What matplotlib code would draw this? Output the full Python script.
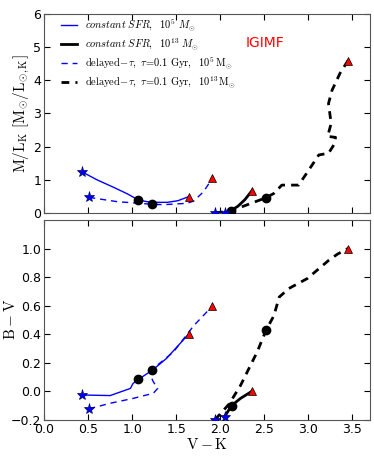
import numpy as np
import matplotlib
matplotlib.use("Agg")
import matplotlib.pyplot as plt

plt.rcParams['mathtext.fontset'] = 'cm'
plt.rcParams['font.family'] = ['DejaVu Sans']

# top panel: V-K vs M/L_K
csfr5_vk = [0.43, 0.60, 0.80, 0.95, 1.07, 1.17, 1.28, 1.40, 1.52, 1.64]
csfr5_ml = [1.24, 1.00, 0.76, 0.57, 0.39, 0.34, 0.32, 0.32, 0.37, 0.49]
del5_vk = [0.51, 0.83, 1.09, 1.23, 1.36, 1.62, 1.70, 1.81, 1.91]
del5_ml = [0.47, 0.34, 0.29, 0.26, 0.25, 0.29, 0.36, 0.64, 1.04]
csfr13_vk = [2.05, 2.12, 2.20, 2.28, 2.36]
csfr13_ml = [0.00, 0.07, 0.20, 0.40, 0.67]
del13_vk = [1.94, 2.13, 2.30, 2.52, 2.61, 2.70, 2.89, 2.98, 3.12, 3.23, 3.29,
            3.31, 3.22, 3.26, 3.23, 3.27, 3.36, 3.45]
del13_ml = [0.00, 0.07, 0.24, 0.46, 0.59, 0.84, 0.84, 1.19, 1.75, 1.80, 2.05,
            2.28, 2.31, 2.70, 3.30, 3.70, 4.21, 4.59]

# bottom panel: V-K vs B-V
csfr5_bv_vk = [0.43, 0.75, 0.98, 1.01, 1.07, 1.23, 1.39, 1.64]
csfr5_bv = [-0.026, -0.03, 0.02, 0.055, 0.083, 0.148, 0.23, 0.40]
del5_bv_vk = [0.51, 0.75, 1.01, 1.24, 1.29, 1.24, 1.215, 1.28, 1.47, 1.70, 1.91]
del5_bv = [-0.123, -0.084, -0.05, -0.014, 0.02, 0.067, 0.10, 0.18, 0.276, 0.46, 0.596]
csfr13_bv_vk = [2.05, 2.13, 2.23, 2.36]
csfr13_bv = [-0.177, -0.10, -0.05, 0.0]
del13_bv_vk = [1.94, 2.10, 2.23, 2.42, 2.52, 2.61, 2.67, 2.78, 2.99, 3.23, 3.33, 3.45]
del13_bv = [-0.20, -0.09, 0.04, 0.276, 0.427, 0.53, 0.66, 0.72, 0.79, 0.916, 0.96, 1.0]

# marked ages (circles)
dot_vk = [1.07, 1.23, 2.12, 2.52]
dot_ml = [0.39, 0.26, 0.07, 0.46]
dot_bv_vk = [1.07, 1.23, 2.13, 2.52]
dot_bv = [0.083, 0.148, -0.10, 0.427]

blue = '#0000ff'

fig = plt.figure(figsize=(3.74, 4.67), dpi=100)
ax1 = fig.add_axes([0.118, 0.544, 0.871, 0.426])
ax2 = fig.add_axes([0.118, 0.101, 0.871, 0.428])

lab_c5 = r'$constant\ SFR,\ \ 10^5\ M_{\odot}$'
lab_c13 = r'$constant\ SFR,\ \ 10^{13}\ M_{\odot}$'
lab_d5 = r'$\mathrm{delayed}\!-\!\tau,\ \tau\!=\!0.1\ \mathrm{Gyr},\ \ 10^5\,\mathrm{M}_{\odot}$'
lab_d13 = r'$\mathrm{delayed}\!-\!\tau,\ \tau\!=\!0.1\ \mathrm{Gyr},\ \ 10^{13}\,\mathrm{M}_{\odot}$'

def draw(ax, c5x, c5y, d5x, d5y, c13x, c13y, d13x, d13y, dx, dy, legend):
    ax.plot(c5x, c5y, '-', color=blue, lw=1.0, label=lab_c5)
    ax.plot(c13x, c13y, '-', color='k', lw=2.0, label=lab_c13)
    ax.plot(d5x, d5y, '--', color=blue, lw=1.0, dashes=(4.5, 3.5), label=lab_d5)
    ax.plot(d13x, d13y, '--', color='k', lw=2.0, dashes=(2.8, 2.2), label=lab_d13)
    ax.plot(dx, dy, 'o', color='k', ms=6, zorder=5)
    sx = [c5x[0], d5x[0], c13x[0], d13x[0]]
    sy = [c5y[0], d5y[0], c13y[0], d13y[0]]
    ax.plot(sx, sy, '*', color=blue, mec='#000066', mew=0.5, ms=8, zorder=6)
    tx = [c5x[-1], d5x[-1], c13x[-1], d13x[-1]]
    ty = [c5y[-1], d5y[-1], c13y[-1], d13y[-1]]
    ax.plot(tx, ty, '^', color='red', mec='k', mew=0.5, ms=5.5, zorder=6)
    ax.tick_params(direction='in', top=True, right=True, labelsize=9, length=4, pad=2)
    for s in ax.spines.values():
        s.set_color('#555555')
    if legend:
        ax.legend(loc='upper left', bbox_to_anchor=(0.04, 1.0), frameon=False,
                  fontsize=7.5, handlelength=1.5, borderaxespad=0.0,
                  labelspacing=0.35, handletextpad=0.8)

draw(ax1, csfr5_vk, csfr5_ml, del5_vk, del5_ml, csfr13_vk, csfr13_ml,
     del13_vk, del13_ml, dot_vk, dot_ml, True)
draw(ax2, csfr5_bv_vk, csfr5_bv, del5_bv_vk, del5_bv, csfr13_bv_vk, csfr13_bv,
     del13_bv_vk, del13_bv, dot_bv_vk, dot_bv, False)

ax1.set_xlim(0, 3.7)
ax1.set_ylim(0, 6)
ax1.set_yticks([0, 1, 2, 3, 4, 5, 6])
ax1.set_xticks([0.0, 0.5, 1.0, 1.5, 2.0, 2.5, 3.0, 3.5])
ax1.set_xticklabels([])
ax1.set_ylabel(r'$\mathrm{M/L_K\ [M_{\odot}/L_{\odot,K}]}$', fontsize=11)
ax1.yaxis.set_label_coords(-0.037, 0.5)
ax1.text(2.51, 5.13, 'IGIMF', color='red', fontsize=10, ha='center', va='center')

ax2.set_xlim(0, 3.7)
ax2.set_ylim(-0.2, 1.2)
ax2.set_yticks([-0.2, 0.0, 0.2, 0.4, 0.6, 0.8, 1.0])
ax2.set_xticks([0.0, 0.5, 1.0, 1.5, 2.0, 2.5, 3.0, 3.5])
ax2.set_ylabel(r'$\mathrm{B-V}$', fontsize=11)
ax2.yaxis.set_label_coords(-0.08, 0.5)
ax2.set_xlabel(r'$\mathrm{V-K}$', fontsize=11, labelpad=1)

fig.savefig('out.png', dpi=100)
